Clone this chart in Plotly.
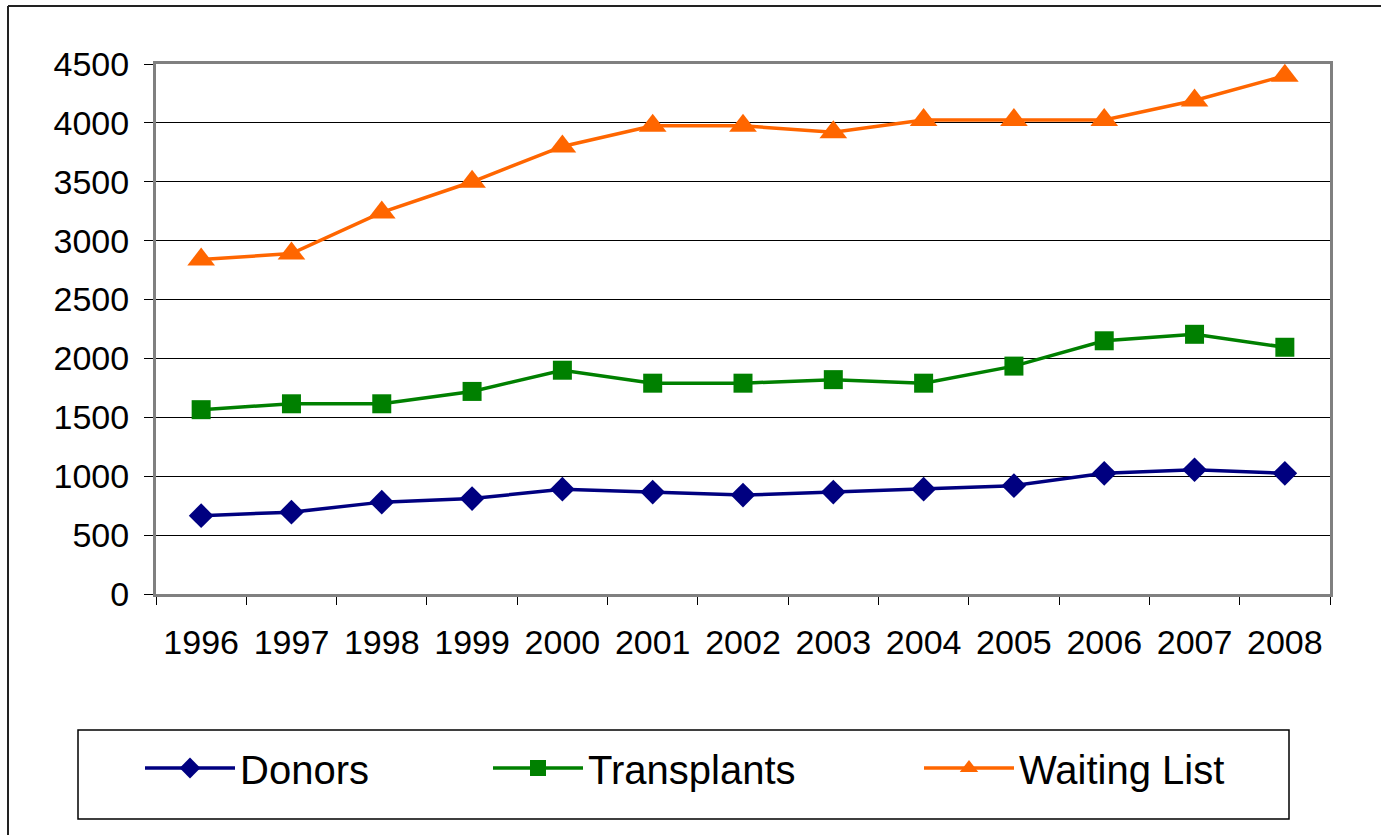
import plotly.graph_objects as go

years = ["1996", "1997", "1998", "1999", "2000", "2001", "2002",
         "2003", "2004", "2005", "2006", "2007", "2008"]
donors = [665, 695, 780, 810, 890, 865, 840, 865, 890, 920, 1025, 1055, 1025]
transplants = [1565, 1615, 1615, 1720, 1900, 1790, 1790, 1820, 1790, 1935, 2150, 2205, 2095]
waiting_list = [2840, 2890, 3240, 3500, 3800, 3975, 3975, 3920, 4025, 4025, 4025, 4190, 4400]
y_ticks = [0, 500, 1000, 1500, 2000, 2500, 3000, 3500, 4000, 4500]

W, H = 1381, 835
L, R, T, B = 156, 1330, 64, 594  # plot area in pixels


def px_x(px):
    return (px - L) / (R - L)


def px_y(py):
    return (B - py) / (B - T)


FONT = "Liberation Sans, Arial, sans-serif"

fig = go.Figure()
fig.add_trace(go.Scatter(
    x=years, y=donors, name="Donors", mode="lines+markers",
    line=dict(color="#000080", width=3.5),
    marker=dict(symbol="diamond", size=19, color="#000080"),
    legendwidth=243,
))
fig.add_trace(go.Scatter(
    x=years, y=transplants, name="Transplants", mode="lines+markers",
    line=dict(color="#008000", width=3.5),
    marker=dict(symbol="square", size=19, color="#008000"),
    legendwidth=326,
))
fig.add_trace(go.Scatter(
    x=years, y=waiting_list, name="Waiting List", mode="lines+markers",
    line=dict(color="#FF6600", width=3.5),
    marker=dict(symbol="triangle-up", size=24, color="#FF6600"),
    legendwidth=240,
))

fig.update_layout(
    width=W, height=H,
    margin=dict(l=L, r=W - R, t=T, b=H - B, autoexpand=False),
    paper_bgcolor="white", plot_bgcolor="white",
    font=dict(family=FONT, color="black", size=34),
    showlegend=True,
    legend=dict(
        orientation="h", x=px_x(140), xanchor="left",
        y=px_y(768), yanchor="middle",
        font=dict(family=FONT, size=40, color="black"),
        bgcolor="rgba(0,0,0,0)", borderwidth=0,
        itemwidth=90, tracegroupgap=0,
    ),
    xaxis=dict(
        type="category", range=[-0.5, 12.5],
        showgrid=False, tickson="boundaries",
        ticks="outside", ticklen=8, tickwidth=1, tickcolor="black",
        showline=True, linecolor="#808080", linewidth=3, mirror=True,
        tickfont=dict(family=FONT, size=34, color="black"),
        ticklabelstandoff=16,
    ),
    yaxis=dict(
        range=[0, 4500], tickvals=y_ticks, tickformat="d",
        showgrid=True, gridcolor="black", gridwidth=1,
        zeroline=False,
        ticks="outside", ticklen=9, tickwidth=1, tickcolor="black",
        showline=True, linecolor="#808080", linewidth=3, mirror=True,
        tickfont=dict(family=FONT, size=34, color="black"),
        ticklabelstandoff=8,
    ),
    shapes=[
        # legend box
        dict(type="rect", xref="paper", yref="paper",
             x0=px_x(78), x1=px_x(1289), y0=px_y(730), y1=px_y(819),
             line=dict(color="black", width=1.5), fillcolor="rgba(0,0,0,0)"),
        # outer chart border (left and top)
        dict(type="line", xref="paper", yref="paper",
             x0=px_x(8), x1=px_x(8), y0=px_y(6), y1=px_y(840),
             line=dict(color="#222222", width=2)),
        dict(type="line", xref="paper", yref="paper",
             x0=px_x(8), x1=px_x(1390), y0=px_y(6), y1=px_y(6),
             line=dict(color="#222222", width=2)),
    ],
)

fig.write_html(
    "out.html",
    config={"displayModeBar": False},
    post_script="document.body.style.margin='0';document.body.style.overflow='hidden';",
)
